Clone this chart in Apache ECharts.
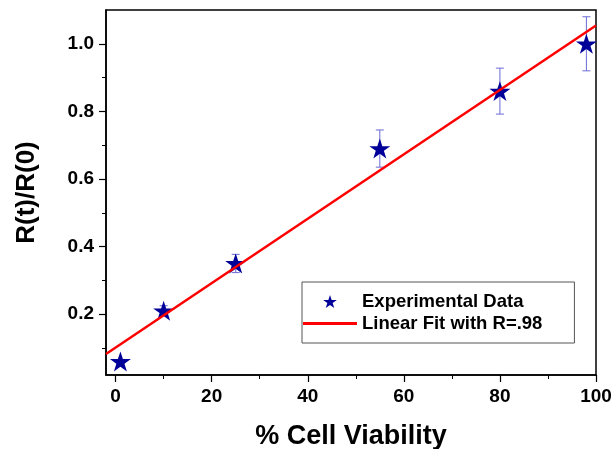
<!DOCTYPE html>
<html>
<head>
<meta charset="utf-8">
<script src="https://cdn.jsdelivr.net/npm/echarts@6/dist/echarts.min.js"></script>
<style>
  html, body { margin: 0; padding: 0; background: #fff; }
  #main { width: 614px; height: 449px; }
</style>
</head>
<body>
<div id="main"></div>
<script>
// 数据
var viability = [1, 10, 25, 55, 80, 98];
var ratio = [0.06, 0.21, 0.35, 0.69, 0.86, 1.0];
var ratioErr = [0.005, 0.015, 0.027, 0.055, 0.068, 0.08];
var fitX = [-2, 100];
var fitY = [0.082, 1.054];
var xTicks = [0, 20, 40, 60, 80, 100];
var xMinor = [10, 30, 50, 70, 90];
var yTicks = [0.2, 0.4, 0.6, 0.8, 1.0];
var yMinor = [0.1, 0.3, 0.5, 0.7, 0.9];

var FONT = "'Liberation Sans', Arial, Helvetica, sans-serif";
var STAR = 'path://M50,0 L61.8,35.3 L98.9,35.3 L68.9,57.1 L80.3,92.7 L50,70.6 L19.7,92.7 L31.1,57.1 L1.1,35.3 L38.2,35.3 Z';

var myChart = echarts.init(document.getElementById('main'));

var points = viability.map(function(x, i) { return [x, ratio[i]]; });
var errData = viability.map(function(x, i) { return [x, ratio[i] - ratioErr[i], ratio[i] + ratioErr[i]]; });
var fitData = fitX.map(function(x, i) { return [x, fitY[i]]; });

var option = {
    animation: false,
    backgroundColor: '#fff',
    grid: {
        left: 106, top: 10, right: 18, bottom: 74,
        outerBoundsMode: 'none',
        show: true, borderColor: '#000', borderWidth: 1.5
    },
    xAxis: [{
        type: 'value', min: -2, max: 100,
        name: '% Cell Viability', nameLocation: 'middle', nameGap: 48,
        nameTextStyle: { fontFamily: FONT, fontWeight: 'bold', fontSize: 27, color: '#000' },
        axisLine: { onZero: false, lineStyle: { color: '#000', width: 1.5 } },
        axisTick: { customValues: xTicks, length: 7, lineStyle: { color: '#000', width: 1.2 } },
        axisLabel: { customValues: xTicks, margin: 12, fontFamily: FONT, fontWeight: 'bold', fontSize: 19, color: '#000' },
        splitLine: { show: false }
    }, {
        type: 'value', min: -2, max: 100, position: 'bottom',
        axisLine: { show: false, onZero: false },
        axisTick: { customValues: xMinor, length: 4, lineStyle: { color: '#000', width: 1 } },
        axisLabel: { show: false },
        splitLine: { show: false }
    }],
    yAxis: [{
        type: 'value', min: 0.02, max: 1.1,
        name: 'R(t)/R(0)', nameLocation: 'middle', nameGap: 66, nameRotate: 90,
        nameTextStyle: { fontFamily: FONT, fontWeight: 'bold', fontSize: 26, color: '#000' },
        axisLine: { onZero: false, lineStyle: { color: '#000', width: 1.5 } },
        axisTick: { customValues: yTicks, length: 7, lineStyle: { color: '#000', width: 1.2 } },
        axisLabel: { customValues: yTicks, margin: 12, fontFamily: FONT, fontWeight: 'bold', fontSize: 19, color: '#000',
            formatter: function(v) { return v.toFixed(1); } },
        splitLine: { show: false }
    }, {
        type: 'value', min: 0.02, max: 1.1, position: 'left',
        axisLine: { show: false, onZero: false },
        axisTick: { customValues: yMinor, length: 4, lineStyle: { color: '#000', width: 1 } },
        axisLabel: { show: false },
        splitLine: { show: false }
    }],
    legend: {
        orient: 'vertical',
        left: 302, top: 282,
        data: [
            { name: 'Experimental Data' },
            { name: 'Linear Fit with R=.98', icon: 'path://M0,0 L54,0 L54,3 L0,3 Z' }
        ],
        itemWidth: 54, itemHeight: 13, itemGap: 3, itemTextGap: 6,
        padding: [10, 32, 10, 1],
        borderColor: '#555', borderWidth: 1,
        textStyle: { fontFamily: FONT, fontWeight: 'bold', fontSize: 18.5, color: '#000' }
    },
    series: [{
        type: 'custom',
        name: 'err',
        z: 1,
        data: errData,
        renderItem: function(params, api) {
            var x = api.value(0);
            var lo = api.coord([x, api.value(1)]);
            var hi = api.coord([x, api.value(2)]);
            var w = 4;
            var st = { stroke: '#6b6bd6', lineWidth: 1 };
            return {
                type: 'group',
                children: [
                    { type: 'line', shape: { x1: hi[0], y1: hi[1], x2: lo[0], y2: lo[1] }, style: st },
                    { type: 'line', shape: { x1: hi[0] - w, y1: hi[1], x2: hi[0] + w, y2: hi[1] }, style: st },
                    { type: 'line', shape: { x1: lo[0] - w, y1: lo[1], x2: lo[0] + w, y2: lo[1] }, style: st }
                ]
            };
        }
    }, {
        type: 'scatter',
        name: 'Experimental Data',
        z: 2,
        symbol: STAR,
        symbolSize: 21,
        symbolKeepAspect: true,
        itemStyle: { color: '#000099', opacity: 1 },
        data: points
    }, {
        type: 'line',
        name: 'Linear Fit with R=.98',
        z: 3,
        showSymbol: false,
        symbol: 'none',
        lineStyle: { color: '#ff0000', width: 2.5 },
        itemStyle: { color: '#ff0000' },
        data: fitData
    }]
};

myChart.setOption(option);
</script>
</body>
</html>
